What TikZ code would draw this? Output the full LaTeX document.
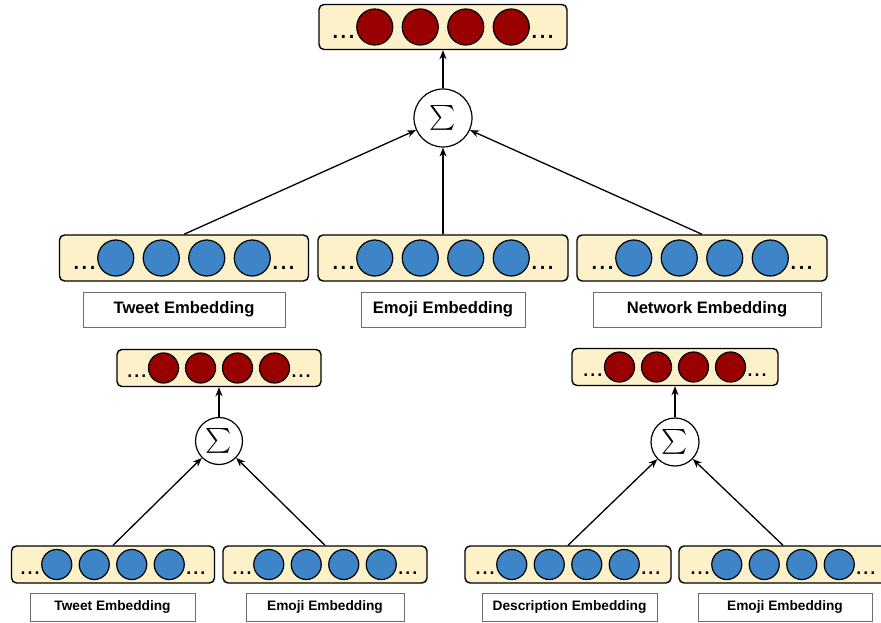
\documentclass[tikz,border=0pt]{standalone}
\usepackage{exscale}
\usepackage{fontspec}
\setmainfont{Liberation Sans}
\usetikzlibrary{arrows.meta}
\definecolor{cream}{HTML}{FDF1CA}
\definecolor{vblue}{HTML}{3D85C6}
\definecolor{vred}{HTML}{990000}
\definecolor{lblgray}{HTML}{6E6E6E}
\tikzset{
  vbox/.style={draw=black, line width=1.4pt, rounded corners=5pt, fill=cream, inner sep=0pt},
  bluec/.style={circle, draw=black, line width=1.2pt, fill=vblue, inner sep=0pt},
  redc/.style={circle, draw=black, line width=1.2pt, fill=vred, inner sep=0pt},
  dotstxt/.style={inner sep=0pt, text=black},
  lbl/.style={draw=lblgray, line width=0.9pt, fill=white, inner sep=0pt, text=black},
  biglbl/.style={lbl, font=\bfseries\fontsize{16.6}{20}\selectfont, minimum height=35pt},
  smalllbl/.style={lbl, font=\bfseries\fontsize{13.7}{16}\selectfont, minimum height=28pt},
  sumc/.style={circle, draw=black, line width=1.2pt, fill=white, inner sep=0pt},
  arr/.style={-{Stealth[length=9pt,width=7pt]}, line width=1.3pt, draw=black},
}
% #1 name, #2 cx, #3 cy, #4 width, #5 height, #6 diameter, #7 spacing, #8 circle style, #9 dots size
\newcommand\vecrow[9]{%
  \node[vbox, minimum width=#4pt, minimum height=#5pt] (#1) at (#2,#3) {};
  \foreach \k/\o in {1/-1.5,2/-0.5,3/0.5,4/1.5}
    \node[#8, minimum size=#6pt] (#1-c\k) at ({#2+\o*#7},#3) {};
  \node[dotstxt, font=\fontsize{#9}{#9}\selectfont, anchor=base east] (#1-l)
    at ({#2-1.5*#7-#6/2-1},{#3+0.32*#6}) {...};
  \node[dotstxt, font=\fontsize{#9}{#9}\selectfont, anchor=base west] (#1-r)
    at ({#2+1.5*#7+#6/2+1},{#3+0.32*#6}) {...};
}
\begin{document}
\begin{tikzpicture}[x=1pt,y=-1pt]
\useasboundingbox[fill=white] (0,0) rectangle (881,623);

% ---- top level ----
\vecrow{out}{443}{27}{248}{45}{36}{45.5}{redc}{29}
\node[sumc, minimum size=58pt, font=\fontsize{32}{32}\selectfont] (sum) at (443,118) {$\sum$};

\vecrow{tw}{184}{258}{249}{46}{36}{45.5}{bluec}{29}
\vecrow{em}{443}{258}{250}{46}{36}{45.5}{bluec}{29}
\vecrow{nw}{702}{258}{250}{46}{36}{45.5}{bluec}{29}

\node[biglbl, minimum width=202pt] (twl) at (184,309.5) {Tweet Embedding};
\node[biglbl, minimum width=164pt] (eml) at (443,309.5) {Emoji Embedding};
\node[biglbl, minimum width=228pt] (nwl) at (707,309.5) {Network Embedding};

\draw[arr] (sum) -- (out);
\draw[arr] (tw.north) -- (sum);
\draw[arr] (em.north) -- (sum);
\draw[arr] (nw.north) -- (sum);

% ---- bottom left ----
\vecrow{lout}{219}{368}{204}{37}{30}{37}{redc}{25}
\node[sumc, minimum size=47pt, font=\fontsize{26}{26}\selectfont] (lsum) at (219,441) {$\sum$};
\vecrow{la}{113}{564.5}{203}{37}{30}{37.5}{bluec}{25}
\vecrow{lb}{325}{564.5}{204}{37}{30}{37.5}{bluec}{25}
\node[smalllbl, minimum width=165pt] (lal) at (112.5,607) {Tweet Embedding};
\node[smalllbl, minimum width=158pt] (lbl) at (325,607) {Emoji Embedding};
\draw[arr] (lsum) -- (lout);
\draw[arr] (la.north) -- (lsum);
\draw[arr] (lb.north) -- (lsum);

% ---- bottom right ----
\vecrow{rout}{675}{367}{206}{37}{30}{37}{redc}{25}
\node[sumc, minimum size=48pt, font=\fontsize{26}{26}\selectfont] (rsum) at (675,442) {$\sum$};
\vecrow{ra}{568}{564.5}{206}{37}{30}{37.5}{bluec}{25}
\vecrow{rb}{783}{564.5}{208}{37}{30}{37.5}{bluec}{25}
\node[smalllbl, minimum width=175pt] (ral) at (569.5,607) {Description Embedding};
\node[smalllbl, minimum width=174pt] (rbl) at (785,607) {Emoji Embedding};
\draw[arr] (rsum) -- (rout);
\draw[arr] (ra.north) -- (rsum);
\draw[arr] (rb.north) -- (rsum);
\end{tikzpicture}
\end{document}
